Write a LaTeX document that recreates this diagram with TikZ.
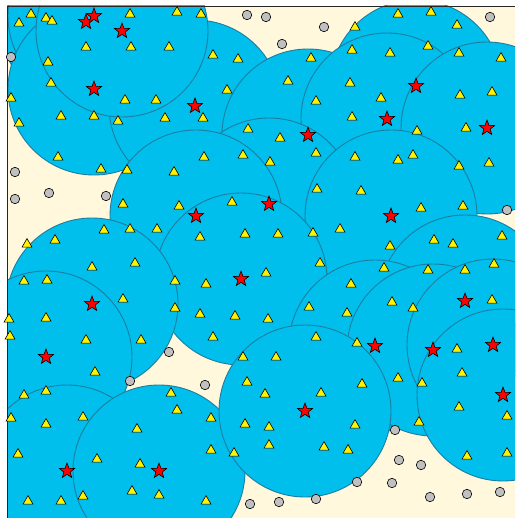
\documentclass[tikz,border=0pt]{standalone}
\usetikzlibrary{shapes.geometric}
\definecolor{cream}{RGB}{255,248,220}
\definecolor{diskfill}{RGB}{0,191,236}
\definecolor{diskedge}{RGB}{28,125,160}
\definecolor{graypt}{RGB}{192,192,192}
\tikzset{
  disk/.style={fill=diskfill, draw=diskedge, line width=0.9pt},
  tri/.style={regular polygon, regular polygon sides=3, draw=black, fill=yellow, minimum size=11.5pt, inner sep=0pt, outer sep=0pt, line width=0.6pt, yshift=-1.3pt},
  starpt/.style={star, star points=5, star point ratio=2.4, draw=black, fill=red, minimum size=16pt, inner sep=0pt, outer sep=0pt, line width=0.6pt},
  graydot/.style={circle, draw=black, fill=graypt, minimum size=9.5pt, inner sep=0pt, outer sep=0pt, line width=0.6pt},
  frameline/.style={draw=black!85, line width=0.9pt}
}
\begin{document}
\begin{tikzpicture}[x=1pt,y=-1pt]
\useasboundingbox (0,0) rectangle (515,518);
\fill[white] (0,0) rectangle (515,518);
\begin{scope}
\clip (7,6) rectangle (515,518);
\fill[cream] (7,6) rectangle (515,518);
% disks in drawing order
\foreach \cx/\cy in {86/22, 94/16, 94/89, 195/106, 122/31, 416/86, 308/135, 387/119, 487/128, 269/204, 196/216, 391/216, 241/279, 92/304, 46/357, 67/471, 159/471, 465/301, 375/346, 433/350, 493/345, 503/395, 305/411}
  \filldraw[disk] (\cx,\cy) circle[radius=86pt];
\end{scope}
\draw[frameline] (7,518) -- (7,6) -- (515,6);
% gray points
\foreach \x/\y [count=\i] in {11/57, 15/172, 15/199, 49/193, 106/196, 247/15, 266/17, 324/27, 282/44, 490/17, 507/210, 169/352, 130/381, 205/385, 250/504, 279/502, 316/499, 357/482, 395/430, 399/460, 421/465, 392/483, 430/497, 467/494, 500/492}
  \node[graydot] (g\i) at (\x,\y) {};
% triangles
\foreach \x/\y [count=\i] in {31/13, 46/17, 52/20, 19/22, 130/13, 86/46, 131/46, 48/61, 51/82, 11/97, 125/99, 61/115, 94/115, 118/120, 19/122, 58/156, 101/168, 127/169,
177/11, 201/13, 169/46, 213/54, 238/58, 227/89, 156/99, 165/117, 203/117, 248/128, 204/156, 243/154, 174/171,
355/26, 352/49, 311/57, 288/80, 350/82, 316/100, 381/97, 352/116, 280/137, 316/152, 270/161, 355/156,
398/13, 431/11, 457/24, 428/45, 390/52, 459/52, 501/57, 460/94, 492/91, 417/130, 466/127, 398/159, 413/154, 459/165, 489/162,
123/203, 104/229, 55/239, 27/243, 92/266, 24/280, 47/279, 123/298, 9/318, 46/317, 10/335, 86/339,
179/205, 232/201, 130/228, 157/228, 200/236, 245/233, 135/262, 175/280, 206/283, 175/307, 200/313, 235/315, 141/339, 213/336,
317/188, 361/190, 278/233, 313/232, 340/228, 320/262, 266/272, 351/283, 309/306, 347/312, 268/318, 316/336, 357/342, 384/267,
421/207, 463/205, 434/239, 453/243, 390/245, 502/235, 428/269, 465/269, 494/263, 392/301, 413/307, 492/299,
95/371, 24/394, 46/390, 11/417, 46/423, 83/416, 18/453, 97/458, 28/500, 61/500, 83/495,
243/356, 247/381, 171/392, 177/409, 211/417, 137/428, 245/423, 211/449, 234/452, 140/463, 132/490, 159/494, 206/500,
276/356, 362/383, 265/393, 321/392, 269/426, 355/424, 269/444, 324/446, 348/449,
457/348, 398/377, 422/382, 462/372, 459/406, 507/415, 419/421, 467/455, 507/452}
  \node[tri] (t\i) at (\x,\y) {};
% stars
\foreach \x/\y [count=\i] in {86/22, 94/16, 122/31, 94/89, 195/106, 416/86, 387/119, 487/128, 308/135, 269/204, 196/216, 391/216, 241/279, 92/304, 465/301, 46/357, 375/346, 433/350, 493/345, 503/395, 305/411, 67/471, 159/471}
  \node[starpt] (s\i) at (\x,\y) {};
\end{tikzpicture}
\end{document}
